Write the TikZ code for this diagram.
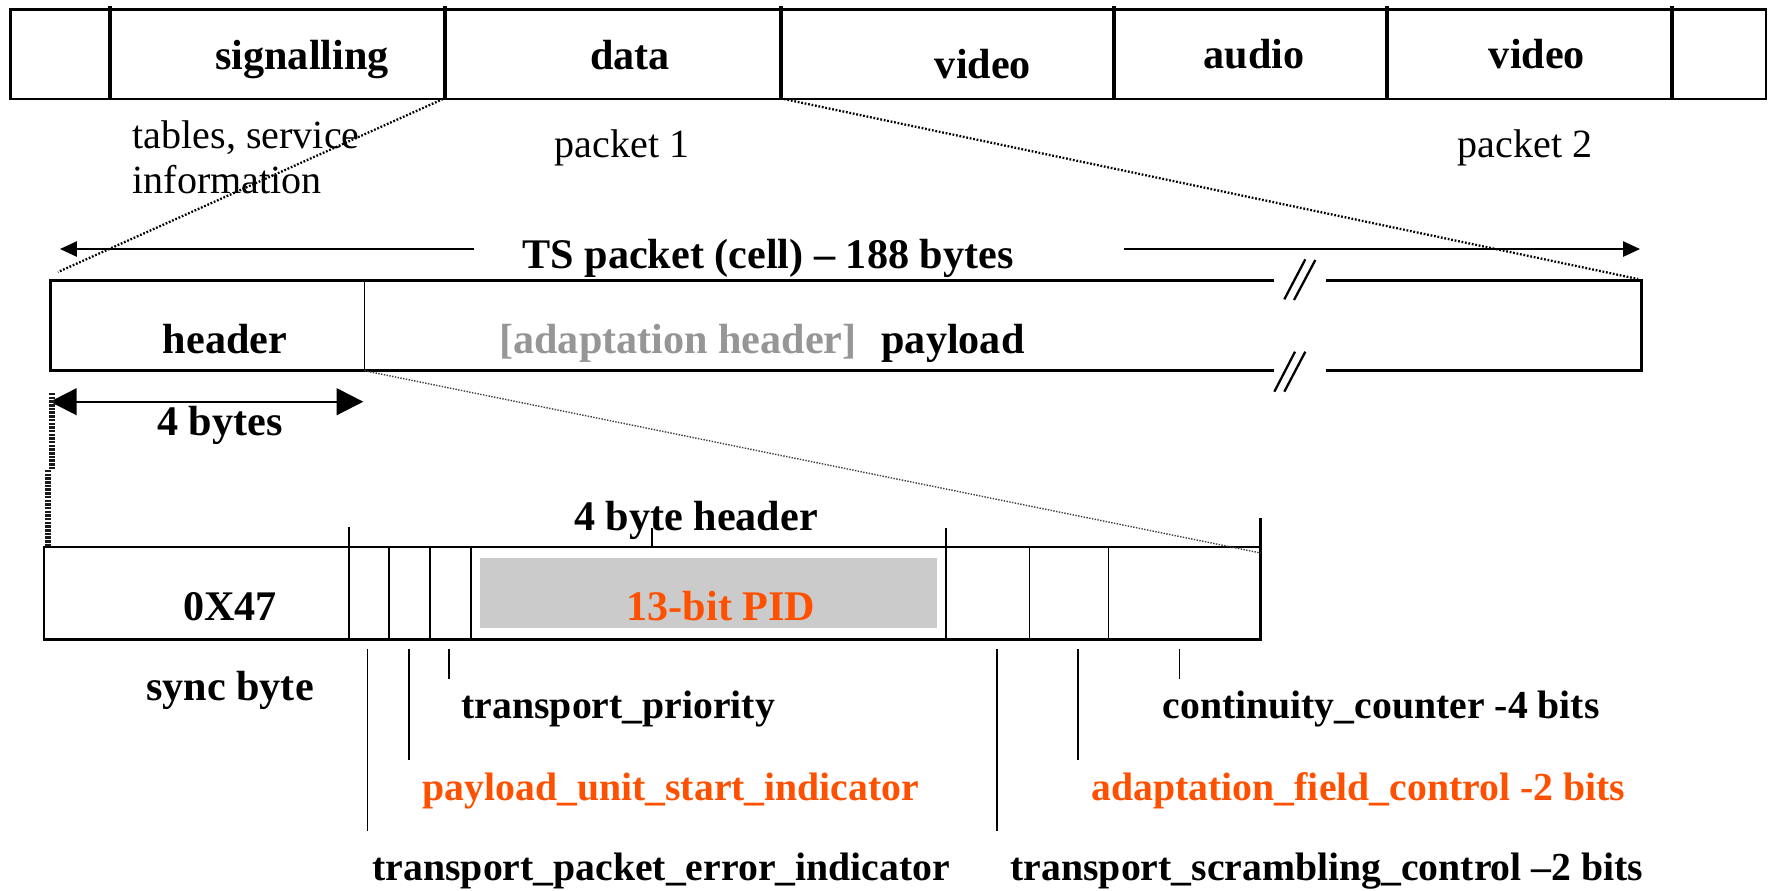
\documentclass[tikz,border=0pt]{standalone}
\usepackage{fontspec}
\setmainfont{Liberation Serif}
\usetikzlibrary{arrows.meta}
\definecolor{accent}{RGB}{255,80,0}
\definecolor{pidgray}{RGB}{203,203,203}
\definecolor{softgray}{RGB}{150,150,150}

\begin{document}
\begin{tikzpicture}[x=0.1mm,y=-0.1mm,
  big/.style={font=\bfseries\fontsize{12}{14}\selectfont, inner sep=0pt, anchor=base},
  fld/.style={font=\bfseries\fontsize{11.3}{13}\selectfont, inner sep=0pt, anchor=base west},
  note/.style={font=\fontsize{11.4}{13}\selectfont, inner sep=0pt, anchor=base west},
  frame/.style={line width=0.85pt},
  cell/.style={line width=0.55pt},
  tick/.style={line width=0.45pt},
  slash/.style={line width=0.65pt},
  zoomline/.style={line width=0.65pt, dash pattern=on 0.5pt off 0.5pt},
  finezoom/.style={line width=0.4pt, dash pattern=on 0.4pt off 0.4pt, black!75},
  hatch/.style={line width=1.6pt, dash pattern=on 0.7pt off 0.35pt, black!90},
  span/.style={line width=0.6pt, -{Triangle[length=4.8pt,width=4.3pt]}},
  bytespan/.style={line width=0.65pt, {Triangle[length=7.6pt,width=7.6pt]}-{Triangle[length=7.6pt,width=7.6pt]}}
]
\useasboundingbox (0,0) rectangle (1769,890);

% ---- multiplex of packets ----
\draw[line width=0.75pt] (10.5,9.3) rectangle (1766,99);
\foreach \x in {110,445,781,1114,1387,1672}
  \draw[line width=1.15pt] (\x,6) -- (\x,99);
\node[big] (sig) at (302,69) {signalling};
\node[big] (dat) at (630,69) {data};
\node[big] (vid1) at (983,78) {video};
\node[big] (aud) at (1254,68) {audio};
\node[big] (vid2) at (1537,68) {video};

\node[note] (tabl) at (132,148) {tables, service};
\node[note] (info) at (132,193) {information};
\node[note, anchor=base] (pk1) at (622,157) {packet 1};
\node[note, anchor=base] (pk2) at (1525,157) {packet 2};

\coordinate (sigcut) at (443,99);
\coordinate (vidcut) at (784,99);

% ---- TS packet ----
\node[big] (ts) at (768,268) {TS packet (cell) -- 188 bytes};
\coordinate (tsl) at (474,249);
\coordinate (tslt) at (60,249);
\coordinate (tsr) at (1124,249);
\coordinate (tsrt) at (1640,249);
\draw[span] (tsl) -- (tslt);
\draw[span] (tsr) -- (tsrt);

\coordinate (pA) at (50.5,280.7);
\coordinate (pB) at (1641,280.7);
\coordinate (pC) at (1641,370.7);
\coordinate (pD) at (50.5,370.7);
\draw[frame] (1274,280.7) -- (pA) -- (pD) -- (1274,370.7);
\draw[frame] (1326,280.7) -- (pB) -- (pC) -- (1326,370.7);
\draw[slash] (1284.3,299.3) -- (1305.3,259.3);
\draw[slash] (1294,300) -- (1315.3,260);
\draw[slash] (1274.3,391.7) -- (1295,351.7);
\draw[slash] (1284.3,391.7) -- (1305.3,351.7);
\coordinate (hdrT) at (364.5,280.7);
\coordinate (hdrB) at (364.5,370.7);
\draw[cell] (hdrT) -- (hdrB);
\node[big] (hdr) at (225,353) {header};
\node[big, text=softgray] (adap) at (678,353) {[adaptation header]};
\node[big] (pay) at (953,353) {payload};

\draw[zoomline] (sigcut) -- (58,272);
\draw[zoomline] (vidcut) -- (1638,279);

% ---- header size ----
\coordinate (b4l) at (50,401.7);
\coordinate (b4r) at (363.3,401.7);
\draw[bytespan] (b4l) -- (b4r);
\node[big] (b4) at (220,435) {4 bytes};
\draw[hatch] (52,393) -- (52,470);
\draw[hatch] (48,470) -- (48,547);

% ---- 4 byte header ----
\coordinate (hA) at (44,547);
\coordinate (hB) at (1260.7,547);
\coordinate (hC) at (1260.7,639.3);
\coordinate (hD) at (44,639.3);
\fill[pidgray] (480,558.3) rectangle (936.8,628.3);
\draw[line width=0.75pt] (hA) -- (hB) -- (hC) -- (hD) -- cycle;
\foreach \x in {349,389.3,430,470.7,946,1029.5,1108.5}
  \draw[cell] (\x,547) -- (\x,639.3);
\draw[tick] (349,527) -- (349,547);
\draw[tick] (946,527.7) -- (946,547);
\draw[tick] (652,528) -- (652,547);
\draw[line width=0.75pt] (1260.7,518) -- (hB);
\draw[finezoom] (hdrB) -- (1260.7,553);

\node[big] (hdr4) at (696,530) {4 byte header};
\node[big] (sync) at (230,620) {0X47};
\node[big, text=accent] (pid) at (721,620) {13-bit PID};

% ---- field call-outs ----
\foreach \x/\y in {367.7/831,409/760,449/679,997/831,1077.8/760,1179.5/679}
  \draw[tick] (\x,649.3) -- (\x,\y);

\node[big] (syncl) at (230,700) {sync byte};
\node[fld] (prio) at (461,718) {transport\_priority};
\node[fld, text=accent] (pusi) at (422,800) {payload\_unit\_start\_indicator};
\node[fld] (tei) at (372,880) {transport\_packet\_error\_indicator};
\node[fld] (cc) at (1162,718) {continuity\_counter -4 bits};
\node[fld, text=accent] (afc) at (1091,800) {adaptation\_field\_control -2 bits};
\node[fld] (tsc) at (1010,880) {transport\_scrambling\_control --2 bits};
\end{tikzpicture}
\end{document}
